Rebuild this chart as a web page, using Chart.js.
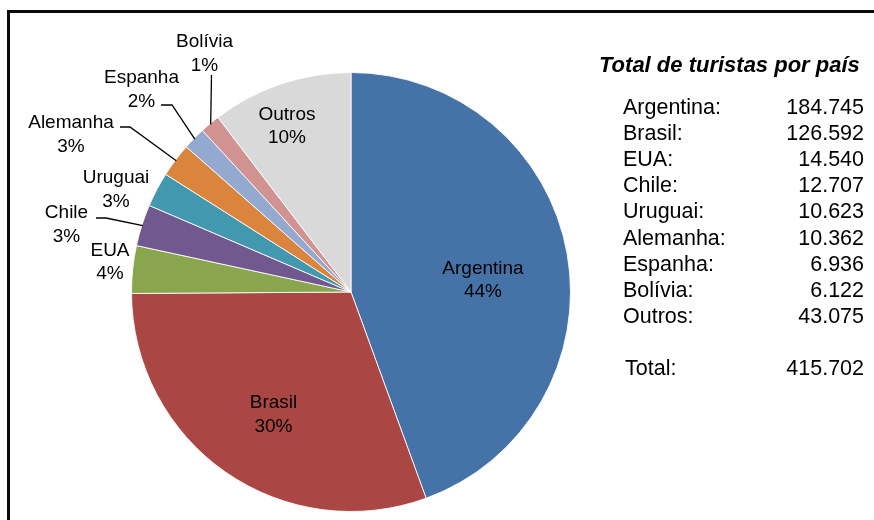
<!DOCTYPE html>
<html>
<head>
<meta charset="utf-8">
<script src="https://cdn.jsdelivr.net/npm/chart.js@4/dist/chart.umd.min.js"></script>
<style>
  html, body { margin: 0; padding: 0; background: #fff; }
  #wrap { width: 874px; height: 520px; position: relative; }
</style>
</head>
<body>
<div id="wrap"><canvas id="c" width="874" height="520"></canvas></div>
<script>
// ---- data ----
const categories = ['Argentina', 'Brasil', 'EUA', 'Chile', 'Uruguai', 'Alemanha', 'Espanha', 'Bolívia', 'Outros'];
const tourists   = [184745, 126592, 14540, 12707, 10623, 10362, 6936, 6122, 43075];
const titleText  = 'Total de turistas por país';
const totalLabel = 'Total:';

// ---- styles ----
const colors = ['#4572A7', '#AA4643', '#89A54E', '#71588F', '#4198AF', '#DB843D', '#93A9CF', '#D19392', '#D9D9D9'];
const FONT = "'Liberation Sans', Arial, sans-serif";

// label layout: x = centre, y = first baseline; optional leader (start, elbow) ending at slice edge
const labelLayout = {
  'Argentina': { x: 483,   y: 274 },
  'Brasil':    { x: 273.5, y: 408.3 },
  'Outros':    { x: 287,   y: 120 },
  'Bolívia':   { x: 204.5, y: 47.3,  leader: [[211.5, 75], [211.5, 75]] },
  'Espanha':   { x: 141.5, y: 83.3,  leader: [[161, 105], [172, 105]] },
  'Alemanha':  { x: 71,    y: 128.3, leader: [[120, 127], [130, 127]] },
  'Uruguai':   { x: 116,   y: 183.3 },
  'Chile':     { x: 66.5,  y: 218.3, leader: [[96, 218], [106, 218]] },
  'EUA':       { x: 110,   y: 256 }
};

function fmt(v) { return String(v).replace(/\B(?=(\d{3})+(?!\d))/g, '.'); }

const total = tourists.reduce((a, b) => a + b, 0);
// whole percentages summing to 100 (largest remainder)
const pct = (() => {
  const raw = tourists.map(v => v / total * 100);
  const fl = raw.map(Math.floor);
  let left = 100 - fl.reduce((a, b) => a + b, 0);
  const order = raw.map((r, i) => [r - Math.floor(r), i]).sort((a, b) => b[0] - a[0]);
  for (let k = 0; k < left; k++) fl[order[k][1]] += 1;
  return fl;
})();

const overlay = {
  id: 'overlay',
  beforeDraw(chart) {
    const ctx = chart.ctx;
    ctx.save();
    ctx.fillStyle = '#fff';
    ctx.fillRect(0, 0, chart.width, chart.height);
    ctx.restore();
  },
  afterDraw(chart) {
    const ctx = chart.ctx;
    ctx.save();
    // frame
    ctx.fillStyle = '#0a0a0a';
    ctx.fillRect(7, 10, 867, 3);
    ctx.fillRect(7, 10, 3, 510);

    // slice labels
    const meta = chart.getDatasetMeta(0);
    ctx.fillStyle = '#000';
    ctx.strokeStyle = '#000';
    ctx.lineWidth = 1.3;
    ctx.font = '19px ' + FONT;
    ctx.textAlign = 'center';
    ctx.textBaseline = 'alphabetic';
    categories.forEach((cat, i) => {
      const L = labelLayout[cat];
      const arc = meta.data[i];
      const p = arc.getProps(['x', 'y', 'startAngle', 'endAngle', 'outerRadius'], true);
      ctx.fillText(cat, L.x, L.y);
      ctx.fillText(pct[i] + '%', L.x, L.y + 23.4);
      if (L.leader) {
        const mid = (p.startAngle + p.endAngle) / 2;
        const r = p.outerRadius - 1;
        const ex = p.x + r * Math.cos(mid), ey = p.y + r * Math.sin(mid);
        ctx.beginPath();
        ctx.moveTo(L.leader[0][0], L.leader[0][1]);
        ctx.lineTo(L.leader[1][0], L.leader[1][1]);
        ctx.lineTo(ex, ey);
        ctx.stroke();
      }
    });

    // title
    ctx.textAlign = 'left';
    ctx.font = 'italic bold 22px ' + FONT;
    ctx.fillText(titleText, 599, 71.7);

    // table
    ctx.font = '21.5px ' + FONT;
    const rowH = 26.1;
    categories.forEach((cat, i) => {
      const y = 114 + i * rowH;
      ctx.textAlign = 'left';
      ctx.fillText(cat + ':', 623, y);
      ctx.textAlign = 'right';
      ctx.fillText(fmt(tourists[i]), 864, y);
    });
    const yT = 114 + (categories.length + 1) * rowH;
    ctx.textAlign = 'left';
    ctx.fillText(totalLabel, 625, yT);
    ctx.textAlign = 'right';
    ctx.fillText(fmt(total), 864, yT);
    ctx.restore();
  }
};

new Chart(document.getElementById('c'), {
  type: 'pie',
  data: {
    labels: categories,
    datasets: [{
      data: tourists,
      backgroundColor: colors,
      borderColor: 'rgba(255,255,255,0.85)',
      borderWidth: 1
    }]
  },
  options: {
    responsive: false,
    animation: false,
    layout: { padding: { left: 131, right: 303, top: 72, bottom: 8 } },
    plugins: {
      legend: { display: false },
      tooltip: { enabled: false },
      title: { display: false }
    }
  },
  plugins: [overlay]
});
</script>
</body>
</html>
